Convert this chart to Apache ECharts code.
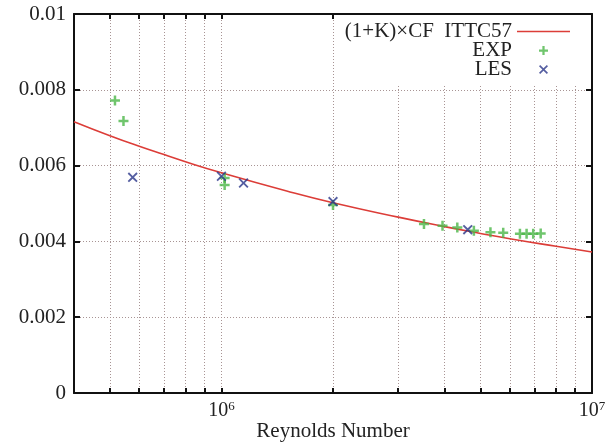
<!DOCTYPE html>
<html>
<head>
<meta charset="utf-8">
<script src="https://cdn.jsdelivr.net/npm/echarts@6/dist/echarts.min.js"></script>
<style>
    html, body { margin: 0; padding: 0; background: #fff; }
    #chart { width: 616px; height: 442px; }
</style>
</head>
<body>
<div id="chart"></div>
<script>
// values
var curveRe = [4e5, 5e5, 6e5, 7e5, 8e5, 1e6, 1.5e6, 2e6, 3e6, 4e6, 5e6, 6e6, 8e6, 1e7];
var curveCf = [0.00716, 0.00679, 0.00651, 0.00629, 0.00610, 0.00581, 0.00533, 0.00502, 0.00464, 0.00439, 0.00421, 0.00407, 0.00387, 0.00372];

var expRe = [5.16e5, 5.44e5, 1.02e6, 1.02e6, 2.0e6, 3.52e6, 3.95e6, 4.33e6, 4.80e6, 5.32e6, 5.76e6, 6.39e6, 6.66e6, 6.94e6, 7.27e6];
var expCf = [0.00772, 0.00718, 0.00567, 0.00549, 0.00496, 0.00446, 0.00441, 0.00437, 0.00428, 0.00424, 0.00423, 0.00420, 0.00420, 0.00420, 0.00421];

var lesRe = [5.76e5, 1.0e6, 1.147e6, 2.0e6, 4.62e6];
var lesCf = [0.00569, 0.00572, 0.00554, 0.00505, 0.00431];

var tickRe = [5e5, 6e5, 7e5, 8e5, 9e5, 1e6, 2e6, 3e6, 4e6, 5e6, 6e6, 7e6, 8e6, 9e6, 1e7];
var labelRe = [1e6, 1e7];

var curveName = '(1+K)×CF  ITTC57';

var plusPath = 'path://M3,0H5V3H8V5H5V8H3V5H0V3H3Z';
var crossPath = 'path://M0,1.3L1.3,0L5,3.7L8.7,0L10,1.3L6.3,5L10,8.7L8.7,10L5,6.3L1.3,10L0,8.7L3.7,5Z';
var linePath = 'path://M0,0H53V1.6H0Z';

function pairs(xs, ys) {
    var out = [];
    for (var i = 0; i < xs.length; i++) {
        out.push([xs[i], ys[i]]);
    }
    return out;
}

var font = 'Liberation Serif';
var gridLine = { show: true, lineStyle: { color: '#a89494', width: 1, type: [1, 2] } };
var frame = { show: true, onZero: false, lineStyle: { color: '#111', width: 2 } };

var chart = echarts.init(document.getElementById('chart'));
var option = {
    animation: false,
    backgroundColor: '#fff',
    textStyle: { fontFamily: font },
    grid: { left: 74, right: 24, top: 14, bottom: 49, containLabel: false, outerBoundsMode: 'none' },
    legend: {
        orient: 'vertical',
        right: 26,
        top: 15,
        align: 'right',
        padding: [6, 20, 5, 6],
        itemGap: -2,
        itemWidth: 53,
        itemHeight: 9,
        backgroundColor: '#fff',
        textStyle: { fontFamily: font, fontSize: 21, color: '#222', lineHeight: 17 },
        data: [{ name: curveName, icon: linePath }, 'EXP', 'LES']
    },
    xAxis: [{
        type: 'log',
        logBase: 10,
        min: 4e5,
        max: 1e7,
        position: 'bottom',
        name: 'Reynolds Number',
        nameLocation: 'middle',
        nameGap: 28,
        nameMoveOverlap: false,
        nameTextStyle: { fontFamily: font, fontSize: 21, color: '#222' },
        axisLine: frame,
        axisTick: { show: true, inside: true, length: 5, customValues: tickRe, lineStyle: { color: '#111', width: 2 } },
        axisLabel: {
            customValues: labelRe,
            margin: 7,
            formatter: function (v) {
                return '{b|10}{s|' + Math.round(Math.log10(v)) + '}';
            },
            rich: {
                b: { fontFamily: font, fontSize: 20, color: '#222' },
                s: { fontFamily: font, fontSize: 13, color: '#222', padding: [0, 0, 9, 0] }
            }
        },
        splitLine: gridLine
    }, {
        type: 'log',
        logBase: 10,
        min: 4e5,
        max: 1e7,
        position: 'top',
        axisLine: frame,
        axisTick: { show: true, inside: true, length: 5, customValues: tickRe, lineStyle: { color: '#111', width: 2 } },
        axisLabel: { show: false },
        splitLine: { show: false }
    }],
    yAxis: [{
        type: 'value',
        min: 0,
        max: 0.01,
        interval: 0.002,
        position: 'left',
        axisLine: frame,
        axisTick: { show: true, inside: true, length: 6, lineStyle: { color: '#111', width: 2 } },
        axisLabel: { fontFamily: font, fontSize: 21, color: '#222', margin: 8 },
        splitLine: gridLine
    }, {
        type: 'value',
        min: 0,
        max: 0.01,
        interval: 0.002,
        position: 'right',
        axisLine: frame,
        axisTick: { show: true, inside: true, length: 6, lineStyle: { color: '#111', width: 2 } },
        axisLabel: { show: false },
        splitLine: { show: false }
    }],
    series: [{
        name: curveName,
        type: 'line',
        smooth: true,
        symbol: 'none',
        lineStyle: { color: '#dc3d38', width: 1.6 },
        itemStyle: { color: '#dc3d38' },
        data: pairs(curveRe, curveCf),
        z: 3
    }, {
        name: 'EXP',
        type: 'scatter',
        symbol: plusPath,
        symbolSize: 10,
        itemStyle: { color: '#4cb648' },
        data: pairs(expRe, expCf),
        z: 4
    }, {
        name: 'LES',
        type: 'scatter',
        symbol: crossPath,
        symbolSize: 10,
        itemStyle: { color: '#2a3689' },
        data: pairs(lesRe, lesCf),
        z: 5
    }]
};
chart.setOption(option);
</script>
</body>
</html>
